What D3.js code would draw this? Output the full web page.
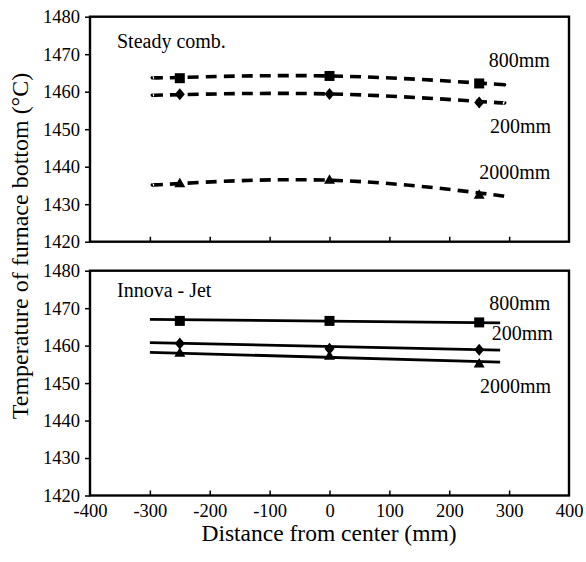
<!DOCTYPE html>
<html>
<head>
<meta charset="utf-8">
<script src="https://cdn.jsdelivr.net/npm/d3@7"></script>
<style>
  body { margin: 0; background: #fff; }
</style>
</head>
<body>
<script>
// measured positions along the furnace (mm)
var pointX = [-250, 0, 250];
var xTickValues = [-400, -300, -200, -100, 0, 100, 200, 300, 400];
var yTickValues = [1420, 1430, 1440, 1450, 1460, 1470, 1480];

// Steady combustion (dashed trend lines)
var steady800 = [1463.6, 1464.2, 1462.2];
var steady200 = [1459.3, 1459.4, 1457.1];
var steady2000 = [1435.6, 1436.5, 1432.5];
var steadyTrendX = [-295, -250, 0, 250, 290];
var steadyTrend800 = [1463.8, 1463.8, 1464.2, 1462.3, 1461.9];
var steadyTrend200 = [1459.1, 1459.2, 1459.4, 1457.4, 1457.1];
var steadyTrend2000 = [1435.2, 1435.5, 1436.4, 1433.0, 1432.1];

// Innova-Jet (solid trend lines)
var jet800 = [1466.6, 1466.6, 1466.2];
var jet200 = [1460.6, 1459.2, 1458.9];
var jet2000 = [1458.1, 1457.3, 1455.2];
var jetTrendX = [-300, 285];
var jetTrend800 = [1467.0, 1466.1];
var jetTrend200 = [1460.8, 1458.8];
var jetTrend2000 = [1458.2, 1455.6];

var seriesNames = ["800mm", "200mm", "2000mm"];
var markerKinds = ["square", "diamond", "triangle"];

var width = 586;
var height = 562;
var serif = "'Liberation Serif', 'Times New Roman', Times, serif";

var svg = d3.select("body").append("svg")
  .attr("width", width)
  .attr("height", height)
  .attr("font-family", serif);

var xScale = d3.scaleLinear().domain([-400, 400]).range([90, 569]);

function marker(kind) {
  if (kind == "square") return "M-5,-5H5V5H-5Z";
  if (kind == "diamond") return "M0,-6L5,0L0,6L-5,0Z";
  return "M0,-5.5L5.5,4L-5.5,4Z";
}

function drawPanel(cfg) {
  var yScale = d3.scaleLinear().domain([1420, 1480]).range([cfg.bottom, cfg.top]);
  var g = svg.append("g");

  // frame
  g.append("rect")
    .attr("x", xScale(-400))
    .attr("y", cfg.top)
    .attr("width", xScale(400) - xScale(-400))
    .attr("height", cfg.bottom - cfg.top)
    .attr("fill", "none")
    .attr("stroke", "#000")
    .attr("stroke-width", 2.4);

  // y axis
  var yAxis = d3.axisLeft(yScale).tickValues(yTickValues).tickSize(5).tickPadding(5).tickFormat(d => String(d));
  var ya = g.append("g").attr("transform", "translate(" + xScale(-400) + ",0)").call(yAxis);
  ya.attr("font-family", serif).attr("font-size", 18.5);
  ya.select(".domain").remove();
  ya.selectAll("line").attr("stroke-width", 1.5);

  // inner x ticks
  var xa = g.append("g").attr("transform", "translate(0," + cfg.bottom + ")")
    .call(d3.axisTop(xScale).tickValues(xTickValues.slice(1, -1)).tickSize(5).tickFormat(""));
  xa.select(".domain").remove();
  xa.selectAll("line").attr("stroke-width", 1.5);

  if (cfg.xLabels) {
    var xl = g.append("g").attr("transform", "translate(0," + cfg.bottom + ")")
      .call(d3.axisBottom(xScale).tickValues(xTickValues).tickSize(0).tickPadding(8).tickFormat(d => String(d)));
    xl.attr("font-family", serif).attr("font-size", 18.5);
    xl.select(".domain").remove();
  }

  var line = d3.line()
    .x(d => xScale(d[0]))
    .y(d => yScale(d[1]))
    .curve(cfg.curve);

  cfg.trends.forEach(function (tr) {
    g.append("path")
      .datum(cfg.trendX.map((xv, i) => [xv, tr[i]]))
      .attr("d", line)
      .attr("fill", "none")
      .attr("stroke", "#000")
      .attr("stroke-width", cfg.dashed ? 3.6 : 2.8)
      .attr("stroke-dasharray", cfg.dashed ? "11,7" : null);
  });

  cfg.values.forEach(function (vals, s) {
    g.selectAll(".m" + s)
      .data(vals)
      .enter()
      .append("path")
      .attr("d", marker(markerKinds[s]))
      .attr("transform", (d, i) => "translate(" + xScale(pointX[i]) + "," + yScale(d) + ")")
      .attr("fill", "#000");
  });

  cfg.labelY.forEach(function (v, s) {
    g.append("text")
      .attr("x", xScale(cfg.labelX[s]))
      .attr("y", yScale(v))
      .attr("text-anchor", "end")
      .attr("font-size", 20)
      .text(seriesNames[s]);
  });

  g.append("text")
    .attr("x", 117)
    .attr("y", yScale(cfg.titleY))
    .attr("font-size", 20)
    .text(cfg.title);
}

drawPanel({
  top: 16.7, bottom: 241.7,
  title: "Steady comb.", titleY: 1471.7,
  values: [steady800, steady200, steady2000],
  trendX: steadyTrendX,
  trends: [steadyTrend800, steadyTrend200, steadyTrend2000],
  curve: d3.curveNatural,
  dashed: true,
  labelX: [368, 370, 369],
  labelY: [1466.7, 1448.9, 1436.6],
  xLabels: false
});

drawPanel({
  top: 270.7, bottom: 495.5,
  title: "Innova - Jet", titleY: 1473.1,
  values: [jet800, jet200, jet2000],
  trendX: jetTrendX,
  trends: [jetTrend800, jetTrend200, jetTrend2000],
  curve: d3.curveLinear,
  dashed: false,
  labelX: [369, 373, 370],
  labelY: [1469.5, 1461.5, 1447.3],
  xLabels: true
});

svg.append("text")
  .attr("x", 329)
  .attr("y", 541)
  .attr("text-anchor", "middle")
  .attr("font-size", 23.5)
  .text("Distance from center (mm)");

svg.append("text")
  .attr("transform", "translate(28,246) rotate(-90)")
  .attr("text-anchor", "middle")
  .attr("font-size", 24)
  .text("Temperature of furnace bottom (°C)");
</script>
</body>
</html>
